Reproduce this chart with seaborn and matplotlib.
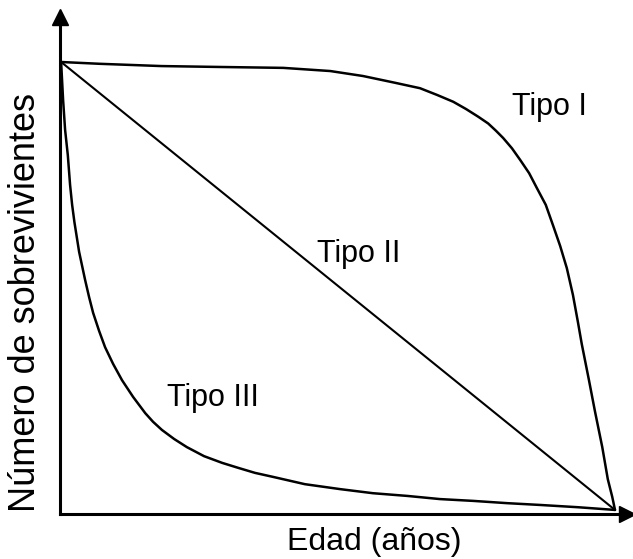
import pandas as pd
import seaborn as sns
import matplotlib.pyplot as plt

# survivorship curves (age 0-100, survivors 0-1000)
edad_tipo1 = [0, 7.0, 18.1, 28.7, 40.1, 48.6, 54.5, 60.3, 64.8, 67.9, 70.8, 73.1, 75.3, 77.1,
              78.5, 79.8, 81.4, 82.9, 84.5, 85.9, 87.5, 88.8, 90.1, 91.3, 92.4, 93.3, 94.0,
              95.3, 96.4, 97.7, 98.7, 99.5, 100]
surv_tipo1 = [1000, 996, 991, 989, 987, 980, 969, 954, 942, 927, 912, 896, 879, 864,
              848, 832, 809, 783, 754, 721, 684, 639, 593, 544, 485, 425, 376,
              296, 226, 148, 77, 38, 9]

edad_tipo2 = [0, 100]
surv_tipo2 = [1000, 9]

edad_tipo3 = [0, 0.36, 0.72, 1.21, 1.62, 1.99, 2.40, 3.25, 4.33, 5.05, 5.78, 6.86, 7.94, 9.39,
              11.0, 13.0, 15.2, 16.6, 18.2, 20.4, 22.7, 25.8, 29.1, 32.0, 35.0, 38.3, 44.0,
              50.4, 56.3, 62.5, 68.4, 74.4, 80.5, 86.5, 93.3, 100]
surv_tipo3 = [1000, 916, 850, 794, 728, 684, 646, 580, 518, 480, 445, 405, 369, 332,
              296, 259, 223, 204, 186, 166, 148, 128, 113, 102, 91, 82, 66,
              55, 46, 40, 33, 29, 24, 20, 15, 9]

etiquetas = ['Tipo I', 'Tipo II', 'Tipo III']
etiqueta_pos = [(81.4, 883), (46.2, 558), (19.1, 239)]

df = pd.concat([
    pd.DataFrame({'Tipo': 'Tipo I', 'Edad': edad_tipo1, 'Sobrevivientes': surv_tipo1}),
    pd.DataFrame({'Tipo': 'Tipo II', 'Edad': edad_tipo2, 'Sobrevivientes': surv_tipo2}),
    pd.DataFrame({'Tipo': 'Tipo III', 'Edad': edad_tipo3, 'Sobrevivientes': surv_tipo3}),
])

sns.set_style("white")
plt.rcParams['font.family'] = ['Liberation Sans', 'DejaVu Sans']
plt.rcParams['text.color'] = 'black'

W, H = 633, 559
fig = plt.figure(figsize=(W / 100, H / 100), dpi=100)
# axes in pixel terms: origin at (60, 514), top at y=17, right at x=627
ax = fig.add_axes([60 / W, 1 - 514 / H, (627 - 60) / W, (514 - 17) / H])

for tipo, lw in zip(etiquetas, [1.8, 1.5, 1.8]):
    sns.lineplot(data=df[df.Tipo == tipo], x='Edad', y='Sobrevivientes', sort=False,
                 estimator=None, color='black', linewidth=lw, ax=ax)

for txt, (x, y) in zip(etiquetas, etiqueta_pos):
    ax.text(x, y, txt, fontsize=22, ha='left', va='baseline', color='black')

# data range: age 0 at px 61, 100 at px 615; survivors 1000 at px 62
ax.set_xlim(-0.2, (627 - 61) / 554 * 100)
ax.set_ylim(0, (514 - 17) / 452 * 1000)
ax.set_xticks([])
ax.set_yticks([])
ax.set_xlabel('')
ax.set_ylabel('')
sns.despine(ax=ax)
for s in ['left', 'bottom']:
    ax.spines[s].set_linewidth(2.2)
    ax.spines[s].set_color('black')

# arrow heads at the ends of the axes
ax.plot(1, 0, '>', color='black', markersize=11, transform=ax.transAxes, clip_on=False)
ax.plot(0, 1, '^', color='black', markersize=11, transform=ax.transAxes, clip_on=False)

fig.text(374 / W, 1 - 550 / H, 'Edad (años)', fontsize=23, ha='center', va='baseline',
         color='black')
fig.text(26 / W, 1 - 302 / H, 'Número de sobrevivientes', fontsize=26, rotation=90,
         ha='center', va='center', color='black')

plt.savefig('out.png', dpi=100)
